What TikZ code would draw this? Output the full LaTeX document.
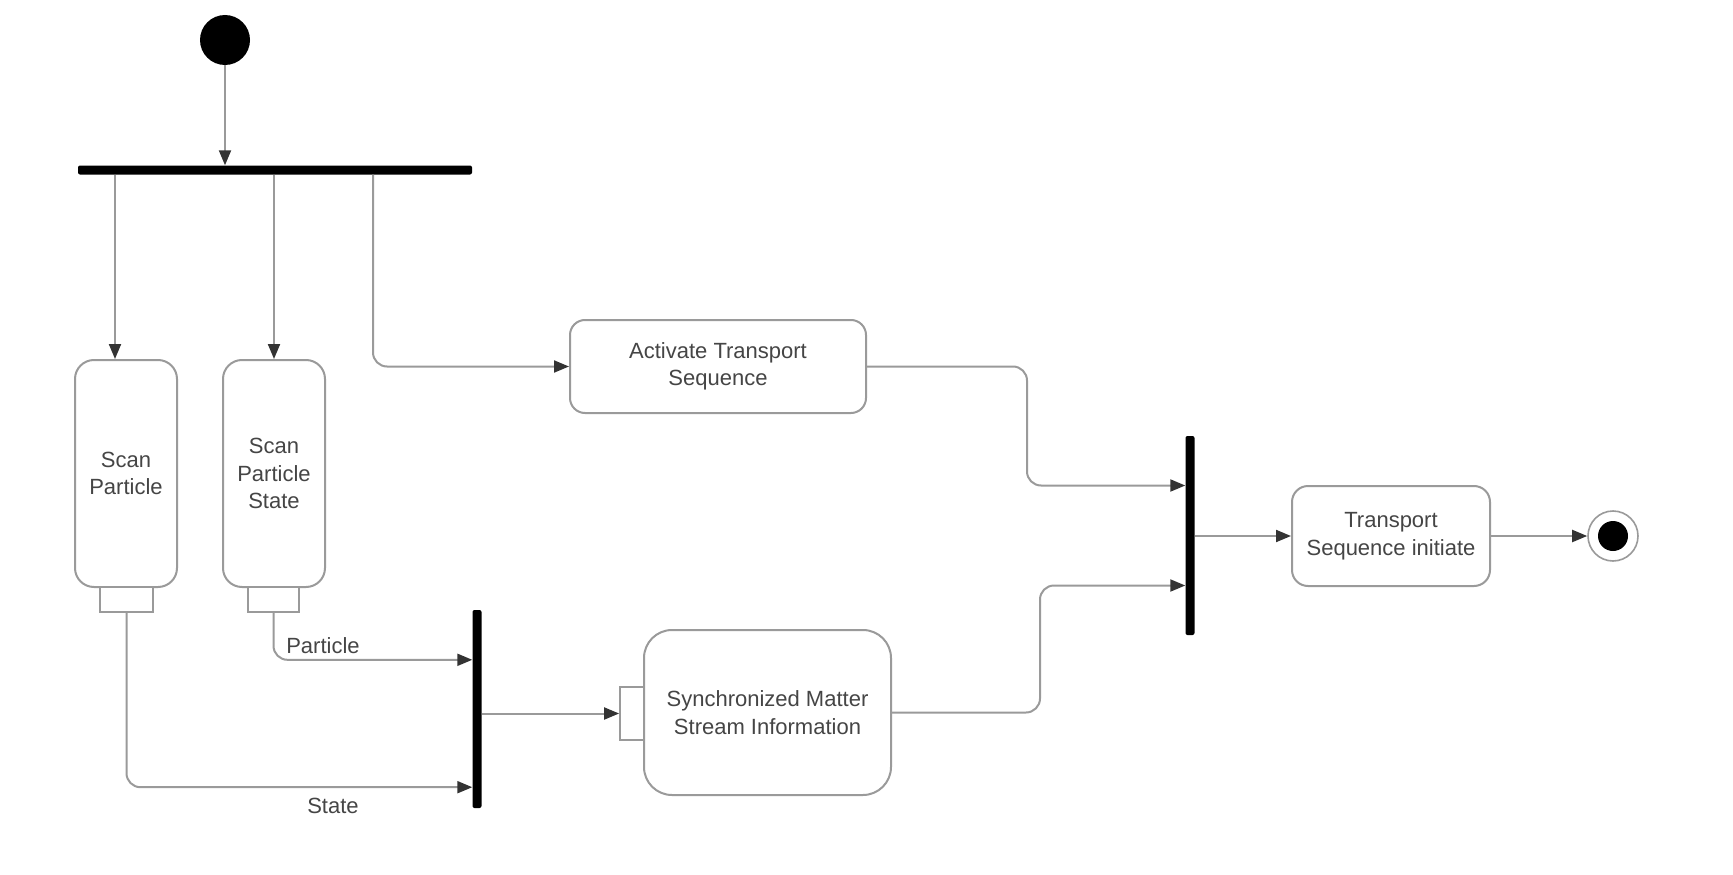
\documentclass[tikz,border=0pt]{standalone}
\usepackage{fontspec}
\setmainfont{Liberation Sans}
\usetikzlibrary{arrows.meta,calc}
\definecolor{ln}{HTML}{9A9A9A}
\definecolor{tx}{HTML}{454545}
\definecolor{ah}{HTML}{333333}
\tikzset{
  act/.style={draw=ln,line width=2pt,rounded corners=#1,fill=white,inner sep=0pt,
    align=center,text=tx,font=\fontsize{22}{27.5}\selectfont},
  act/.default=15pt,
  pinbox/.style={draw=ln,line width=1.8pt,fill=white,inner sep=0pt},
  barv/.style={fill=black,inner sep=0pt,rounded corners=2pt,minimum width=9pt},
  barh/.style={fill=black,inner sep=0pt,rounded corners=2pt,minimum height=9pt},
  conn/.style={draw=ln,line width=2pt,rounded corners=14pt,
    -{Triangle[length=15pt,width=12pt,color=ah]}},
  lbl/.style={text=tx,font=\fontsize{22}{27.5}\selectfont,inner sep=0pt}
}
\begin{document}
\begin{tikzpicture}[x=1pt,y=-1pt]
\useasboundingbox (0,0) rectangle (1733,875);
% initial node and fork
\node[circle,fill=black,minimum size=50pt,inner sep=0pt] (start) at (225,40) {};
\node[barh,minimum width=394pt] (fork) at (275,170) {};
% actions
\node[act=19pt,minimum width=102pt,minimum height=227pt] (sp) at (126,473.5) {Scan\\Particle};
\node[act=19pt,minimum width=102pt,minimum height=227pt] (sps) at (274,473.5) {Scan\\Particle\\State};
\node[pinbox,minimum width=53pt,minimum height=25pt] (pin1) at (126.5,599.5) {};
\node[pinbox,minimum width=51pt,minimum height=25pt] (pin2) at (273.5,599.5) {};
\node[act=15pt,minimum width=296pt,minimum height=93pt] (actv) at (718,366.5) {Activate Transport\\Sequence};
\node[barv,minimum height=198pt] (join1) at (477,709) {};
\node[act=28pt,minimum width=247pt,minimum height=165pt] (sync) at (767.5,712.5) {Synchronized Matter\\Stream Information};
\node[pinbox,minimum width=24pt,minimum height=53pt] (spin) at (632,713.5) {};
\node[barv,minimum height=199pt] (join2) at (1190,535.5) {};
\node[act=16pt,minimum width=198pt,minimum height=100pt] (trans) at (1391,536) {Transport\\Sequence initiate};
\node[circle,draw=ln,line width=1.6pt,fill=white,minimum size=50pt,inner sep=0pt] (end) at (1613,536) {};
\node[circle,fill=black,minimum size=30pt,inner sep=0pt] (endin) at (end) {};
% connectors
\draw[conn] (start.south) -- (start.south |- fork.north);
\draw[conn] ([xshift=-160pt]fork.south) -- ([xshift=-160pt]fork.south |- sp.north);
\draw[conn] (fork.south -| sps.north) -- (sps.north);
\draw[conn] ([xshift=98pt]fork.south) |- (actv.west);
\draw[conn] (pin2.south) |- ([yshift=-50pt]join1.north west);
\draw[conn] (pin1.south) |- ([yshift=21pt]join1.south west);
\node[lbl] (lpart) at (323,646) {Particle};
\node[lbl] (lstate) at (333,806) {State};
\draw[conn] (spin.west -| join1.east) -- (spin.west);
\draw[conn] (actv.east) -- ++(160,0) |- ([yshift=50pt]join2.west);
\draw[conn] (sync.east) -- ++(148,0) |- ([yshift=-50pt]join2.west);
\draw[conn] (join2.east |- trans.west) -- (trans.west);
\draw[conn] (trans.east) -- (end.west);
\end{tikzpicture}
\end{document}
